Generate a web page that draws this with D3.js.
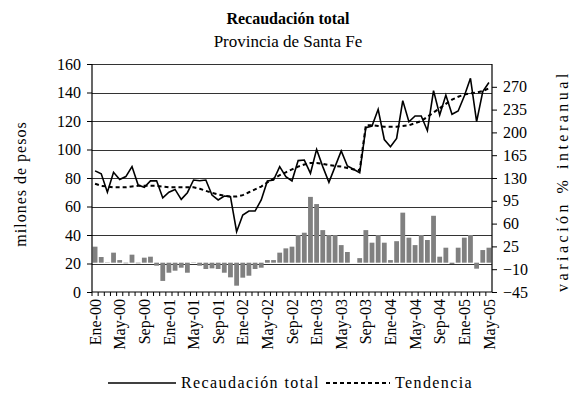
<!DOCTYPE html>
<html>
<head>
<meta charset="utf-8">
<script src="https://cdn.jsdelivr.net/npm/d3@7"></script>
<style>
  html, body { margin: 0; padding: 0; background: #fff; }
  svg { display: block; }
  svg text { font-family: "Liberation Serif", "Times New Roman", Times, serif; fill: #000; }
</style>
</head>
<body>
<svg id="chart" width="577" height="394"></svg>
<script>
// Monthly categories, Jan 2000 – May 2005
const monthNames = ["Ene","Feb","Mar","Abr","May","Jun","Jul","Ago","Sep","Oct","Nov","Dic"];
const years = ["00","01","02","03","04","05"];
const months = [];
years.forEach((y, yi) => monthNames.forEach((m, mi) => {
  if (yi < 5 || mi < 5) months.push(m + "-" + y);
}));

// Total tax collection (millions of pesos)
const recaudacion = [
  85, 83, 70, 84, 79, 81, 88, 75, 73.5, 78, 78, 66,
  70, 72, 65, 69.7, 78.6, 78.1, 78.6, 68, 64.6, 67.4, 66.9, 42.3,
  54, 56.8, 56.8, 64.6, 77.9, 78.6, 88, 81, 78, 92.2, 92.6, 83.3,
  100.1, 88, 77, 88, 99, 88.4, 86.1, 83.7, 115.3, 116.5, 128.2, 107,
  102, 107.8, 134.3, 119.5, 123.5, 123.5, 113.2, 141.3, 124.2, 138.2, 124.7, 127,
  137.5, 150, 119.5, 140.6, 147
];

// Trend (millions of pesos)
const tendencia = [
  76, 74.5, 74, 73.5, 73.5, 73.5, 74, 74.5, 74.5, 74.5, 74.5, 74,
  73.5, 73.5, 73.5, 73.5, 73.5, 72.5, 71, 69.5, 68.5, 67.5, 67, 67,
  68, 70, 72, 74, 77, 79.5, 82, 84, 86, 88, 89.5, 90.5,
  90.5, 90, 89, 88.5, 88, 87, 86, 85.5, 117, 117, 116.5, 116,
  116, 116, 116.5, 117, 118.5, 120, 123, 126, 129, 132, 135, 137,
  138.5, 139.5, 140, 141, 143
];

// Year-on-year change (%)
const variacion = [
  24.6, 8.7, 0.5, 15.4, 4, -1, 12.3, -1, 7.7, 9.2, -4.6, -28,
  -15.4, -12.3, -7.7, -15.4, -0.5, -4.6, -9.7, -8.7, -9.7, -15.4, -22.5, -35.3,
  -23, -20, -9.7, -7.7, 4, 4, 15.4, 22, 24.6, 42.5, 46, 101,
  90, 50, 42.5, 42.5, 27, 16.4, 0, 7, 50, 30.7, 42.5, 30.7,
  4, 33, 76.8, 38.4, 27, 42.5, 34.8, 72, 9.2, 23, -2, 23,
  38.4, 42.5, -9.2, 19.4, 23
];

const leftTicks = [0, 20, 40, 60, 80, 100, 120, 140, 160];
const rightTicks = [-45, -10, 25, 60, 95, 130, 165, 200, 235, 270];

const serif = "'Liberation Serif', 'Times New Roman', Times, serif";
const svg = d3.select("#chart");
const plot = { left: 92, right: 492, top: 64, bottom: 292 };

const x = d3.scaleBand().domain(months).range([plot.left, plot.right]).paddingInner(0.22).paddingOuter(0.11);
const xp = d3.scalePoint().domain(months).range([plot.left, plot.right]).padding(0.5);
const yL = d3.scaleLinear().domain([0, 160]).range([plot.bottom, plot.top]);
const yR = d3.scaleLinear().domain([-45, 305]).range([plot.bottom, plot.top]);

// Horizontal gridlines
svg.append("g").selectAll("line").data(leftTicks.filter(d => d > 0)).join("line")
  .attr("x1", plot.left).attr("x2", plot.right)
  .attr("y1", d => Math.round(yL(d)) + 0.5).attr("y2", d => Math.round(yL(d)) + 0.5)
  .attr("stroke", "#333").attr("stroke-width", 1);

// Bars: year-on-year change
svg.append("g").selectAll("rect").data(months).join("rect")
  .attr("x", d => x(d))
  .attr("width", x.bandwidth())
  .attr("y", (d, i) => Math.min(yR(variacion[i]), yR(0)))
  .attr("height", (d, i) => Math.abs(yR(variacion[i]) - yR(0)))
  .attr("fill", "#808080");

// Trend line (dashed)
svg.append("path")
  .datum(tendencia)
  .attr("fill", "none").attr("stroke", "#000").attr("stroke-width", 2)
  .attr("stroke-dasharray", "4,3")
  .attr("d", d3.line().x((d, i) => xp(months[i])).y(d => yL(d)));

// Total collection line
svg.append("path")
  .datum(recaudacion)
  .attr("fill", "none").attr("stroke", "#000").attr("stroke-width", 1.6)
  .attr("stroke-linejoin", "miter")
  .attr("d", d3.line().x((d, i) => xp(months[i])).y(d => yL(d)));

// Left axis
const gL = svg.append("g").attr("transform", `translate(${plot.left},0)`)
  .call(d3.axisLeft(yL).tickValues(leftTicks).tickSize(5).tickPadding(6));
// Right axis
const gR = svg.append("g").attr("transform", `translate(${plot.right},0)`)
  .call(d3.axisRight(yR).tickValues(rightTicks).tickSize(5).tickPadding(6));
// Bottom axis
const gB = svg.append("g").attr("transform", `translate(0,${plot.bottom})`)
  .call(d3.axisBottom(x).tickSize(4).tickPadding(4)
    .tickFormat((d, i) => i % 4 === 0 ? d : ""));
// Month boundary ticks
gB.selectAll(".tick line").attr("transform", `translate(${-x.step() / 2},0)`);

[gL, gR, gB].forEach(g => {
  g.attr("font-family", serif).attr("font-size", 16);
  g.select(".domain").attr("stroke", "#000").attr("stroke-width", 1.2);
  g.selectAll(".tick line").attr("stroke", "#000");
  g.selectAll("text").style("font-family", serif).style("font-size", "16px").attr("fill", "#000");
});
gB.select(".domain").attr("d", `M${plot.left},0H${plot.right}`);
gL.select(".domain").attr("d", `M0,${plot.bottom}V${plot.top}`);
gR.select(".domain").attr("d", `M0,${plot.bottom}V${plot.top}`);

gB.selectAll(".tick text")
  .attr("transform", "rotate(-90)")
  .attr("text-anchor", "end")
  .attr("dy", "0.35em")
  .attr("x", -7).attr("y", 0);

// Titles
svg.append("text").attr("x", 288).attr("y", 24).attr("text-anchor", "middle")
  .style("font-size", "16px").attr("font-weight", "bold").text("Recaudación total");
svg.append("text").attr("x", 288).attr("y", 47).attr("text-anchor", "middle")
  .style("font-size", "17px").text("Provincia de Santa Fe");

// Axis titles
svg.append("text").attr("transform", `translate(26,184) rotate(-90)`)
  .attr("text-anchor", "middle").style("font-size", "16px")
  .attr("letter-spacing", 1).text("milones de pesos");
svg.append("text").attr("transform", `translate(568,181) rotate(-90)`)
  .attr("text-anchor", "middle").style("font-size", "16px")
  .attr("letter-spacing", 3.5).text("variación % interanual");

// Legend
const lg = svg.append("g").attr("transform", "translate(0,383)");
lg.append("line").attr("x1", 108).attr("x2", 176).attr("y1", 0).attr("y2", 0)
  .attr("stroke", "#000").attr("stroke-width", 1.6);
lg.append("text").attr("x", 181).attr("y", 5).style("font-size", "16px")
  .attr("letter-spacing", 1.4).text("Recaudación total");
lg.append("line").attr("x1", 326).attr("x2", 390).attr("y1", 0).attr("y2", 0)
  .attr("stroke", "#000").attr("stroke-width", 2).attr("stroke-dasharray", "4,3");
lg.append("text").attr("x", 395).attr("y", 5).style("font-size", "16px")
  .attr("letter-spacing", 1.4).text("Tendencia");
</script>
</body>
</html>
